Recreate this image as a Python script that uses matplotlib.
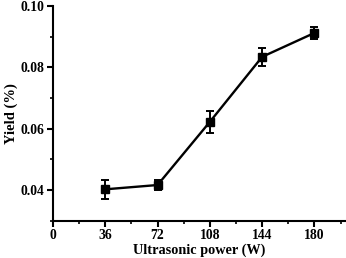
import matplotlib
matplotlib.use("Agg")
import matplotlib.pyplot as plt
from matplotlib.ticker import MultipleLocator

power = [36, 72, 108, 144, 180]
yield_pct = [0.0402, 0.0416, 0.0622, 0.0834, 0.0912]
err = [0.0030, 0.0016, 0.0037, 0.0029, 0.0020]
xticks = [0, 36, 72, 108, 144, 180]
yticks = [0.04, 0.06, 0.08, 0.10]

plt.rcParams['font.family'] = ['Liberation Serif', 'DejaVu Serif']
plt.rcParams['font.weight'] = 'bold'

fig = plt.figure(figsize=(3.46, 2.58), dpi=100)
ax = fig.add_axes([0.153, 0.145, 0.844, 0.832])
ax.errorbar(power, yield_pct, yerr=err, color='black', lw=1.7, marker='s', ms=5.5,
            capsize=3, elinewidth=1.4, capthick=1.4)
ax.set_xlim(0, 201)
ax.set_ylim(0.03, 0.10)
ax.set_xticks(xticks)
ax.set_yticks(yticks)
ax.set_yticklabels([f"{v:.2f}" for v in yticks])
ax.xaxis.set_minor_locator(MultipleLocator(18))
ax.yaxis.set_minor_locator(MultipleLocator(0.01))
for s in ['top', 'right']:
    ax.spines[s].set_visible(False)
for s in ['left', 'bottom']:
    ax.spines[s].set_linewidth(1.5)
ax.tick_params(which='major', length=4, width=1.5, labelsize=9.8, pad=2)
ax.tick_params(which='minor', length=2.5, width=1.2)
ax.set_xlabel('Ultrasonic power (W)', fontsize=10.3, fontweight='bold', labelpad=1)
ax.set_ylabel('Yield (%)', fontsize=10.5, fontweight='bold', labelpad=2)
fig.savefig('out.png', dpi=100)
